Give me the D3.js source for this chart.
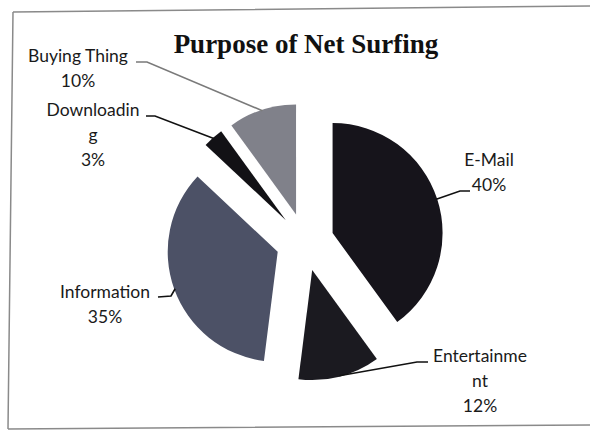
<!DOCTYPE html>
<html>
<head>
<meta charset="utf-8">
<script src="https://cdn.jsdelivr.net/npm/d3@7"></script>
<style>
  html, body { margin: 0; padding: 0; background: #ffffff; }
  svg { display: block; }
</style>
</head>
<body>
<svg id="chart" width="590" height="430"></svg>
<script>
// Purpose of net surfing — share of respondents (%)
const categories = ["E-Mail", "Entertainment", "Information", "Downloading", "Buying Thing"];
const values = [40, 12, 35, 3, 10];
const percentLabels = ["40%", "12%", "35%", "3%", "10%"];
// Category names as they wrap inside the data-label boxes
const wrappedNames = [["E-Mail"], ["Entertainme", "nt"], ["Information"], ["Downloadin", "g"], ["Buying Thing"]];

// Presentation settings
const sliceColors = ["#16141b", "#1b1a20", "#4c5166", "#121115", "#80818a"];
const cx = 305, cy = 242, radius = 110, explode = 29;
// Label block centre x, first baseline y, and leader elbow/end points
const labelLayout = [
  { x: 489, y: 166, elbow: [460, 191], end: [470, 191] },
  { x: 480, y: 362, elbow: [417, 362], end: [428, 362] },
  { x: 105, y: 298, elbow: [171, 296], end: [158, 297] },
  { x: 93,  y: 116, elbow: [155, 116], end: [146, 116] },
  { x: 78,  y: 62,  elbow: [147, 62],  end: [136, 62] }
];
const leaderColors = ["#111", "#111", "#111", "#111", "#7a7a7a"];

const svg = d3.select("#chart");

// Photographed outer frame (slightly skewed)
svg.append("path")
  .attr("d", "M13,12 L592,6 M13,12 L8,429 M8,429 L592,425")
  .attr("fill", "none")
  .attr("stroke", "#8a8a8a")
  .attr("stroke-width", 1.5);

// Title
svg.append("text")
  .attr("x", 306)
  .attr("y", 53)
  .attr("text-anchor", "middle")
  .attr("font-family", "'Liberation Serif', 'Times New Roman', serif")
  .attr("font-weight", "bold")
  .attr("font-size", 27)
  .attr("fill", "#111")
  .text("Purpose of Net Surfing");

const pie = d3.pie().sort(null).value(d => d)(values);
const arc = d3.arc().innerRadius(0).outerRadius(radius);

const g = svg.append("g").attr("transform", `translate(${cx},${cy})`);

function dirOf(angle) { return [Math.sin(angle), -Math.cos(angle)]; }

const slices = g.selectAll("path.slice")
  .data(pie)
  .enter().append("path")
  .attr("class", "slice")
  .attr("d", arc)
  .attr("fill", (d, i) => sliceColors[i])
  .attr("transform", d => {
    const m = (d.startAngle + d.endAngle) / 2;
    const [dx, dy] = dirOf(m);
    return `translate(${dx * explode},${dy * explode})`;
  });

// Leader lines from slice edge to label
pie.forEach((d, i) => {
  const m = (d.startAngle + d.endAngle) / 2;
  const [dx, dy] = dirOf(m);
  const px = cx + dx * (explode + radius - 1);
  const py = cy + dy * (explode + radius - 1);
  const L = labelLayout[i];
  svg.append("path")
    .attr("d", `M${px},${py} L${L.elbow[0]},${L.elbow[1]} L${L.end[0]},${L.end[1]}`)
    .attr("fill", "none")
    .attr("stroke", leaderColors[i])
    .attr("stroke-width", 1.6);
});

// Data labels: category name (wrapped) and percentage
const lineH = 25;
categories.forEach((c, i) => {
  const L = labelLayout[i];
  const lines = wrappedNames[i].concat([percentLabels[i]]);
  const t = svg.append("text")
    .attr("text-anchor", "middle")
    .attr("font-family", "Lato, 'Open Sans', sans-serif")
    .attr("font-size", 17.5)
    .attr("fill", "#1a1a1a");
  lines.forEach((ln, k) => {
    t.append("tspan").attr("x", L.x).attr("y", L.y + k * lineH).text(ln);
  });
});
</script>
</body>
</html>
